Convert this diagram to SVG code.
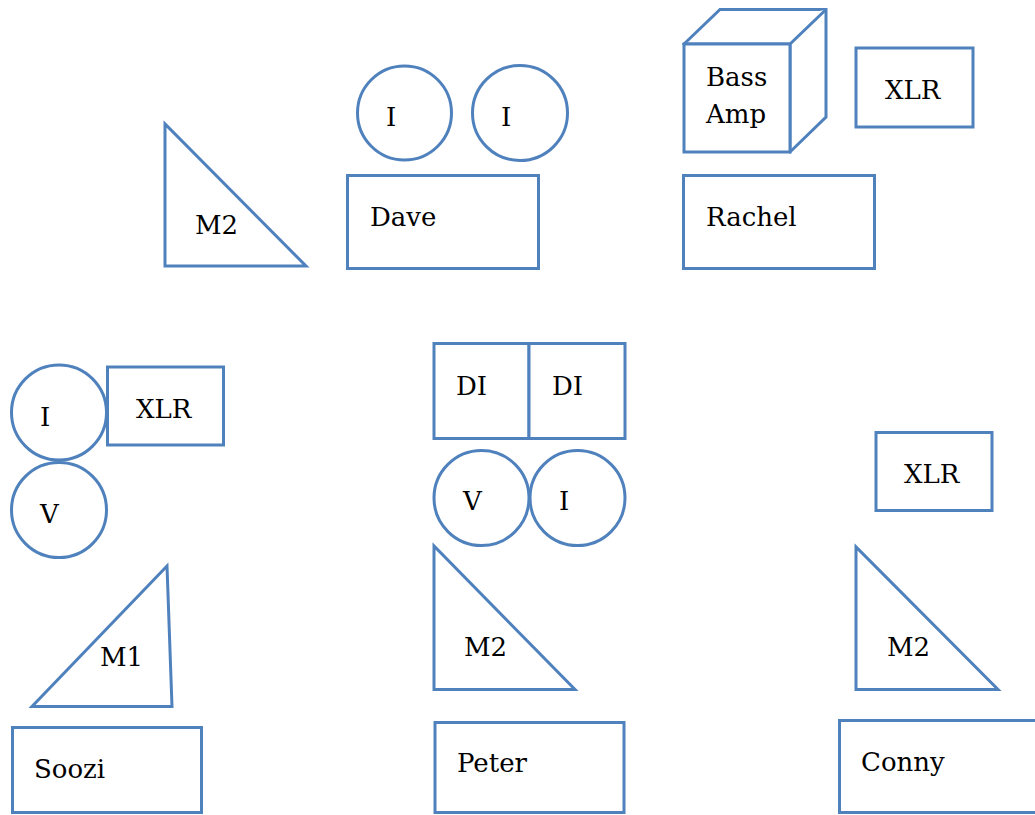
<svg xmlns="http://www.w3.org/2000/svg" width="1035" height="815" viewBox="0 0 1035 815">
<style>
.s{fill:#fff;stroke:#4F81BD;stroke-width:3;stroke-linejoin:miter}
text{font-family:"DejaVu Serif","Liberation Serif",serif;font-size:26px;fill:#000}
</style>
<rect width="1035" height="815" fill="#fff"/>
<g id="m2-dave"><polygon class="s" points="165,124 165,266 306,266"/><text x="195" y="234">M2</text></g>
<g id="dave-i1"><circle class="s" cx="404.5" cy="113" r="47"/><text x="386" y="126">I</text></g>
<g id="dave-i2"><circle class="s" cx="520" cy="113" r="47.5"/><text x="501" y="126">I</text></g>
<g id="dave"><rect class="s" x="347.5" y="175.5" width="191" height="93"/><text x="370" y="226">Dave</text></g>
<g id="bass-amp"><path class="s" d="M684,44 L720,9.5 L826,9.5 L826,117 L790,152 Z"/><path class="s" d="M684,44 L790,44 L826,9.5 M790,44 L790,152"/><rect class="s" x="684" y="44" width="106" height="108" fill="none"/><text x="706" y="86">Bass</text><text x="706" y="123">Amp</text></g>
<g id="xlr-rachel"><rect class="s" x="856" y="48" width="117" height="79"/><text x="885" y="99">XLR</text></g>
<g id="rachel"><rect class="s" x="683.5" y="175.5" width="191" height="93"/><text x="706" y="226">Rachel</text></g>
<g id="soozi-i"><circle class="s" cx="59" cy="412.5" r="47.5"/><text x="40" y="426">I</text></g>
<g id="soozi-xlr"><rect class="s" x="107.5" y="367" width="116" height="78"/><text x="136" y="418">XLR</text></g>
<g id="soozi-v"><circle class="s" cx="59" cy="510" r="47.5"/><text x="40" y="523">V</text></g>
<g id="m1"><polygon class="s" points="167,566 32,706.5 172,706.5"/><text x="100" y="666">M1</text></g>
<g id="soozi"><rect class="s" x="12.5" y="727.5" width="189" height="85"/><text x="34" y="778">Soozi</text></g>
<g id="di1"><rect class="s" x="434" y="343.5" width="95" height="95"/><text x="456" y="395">DI</text></g>
<g id="di2"><rect class="s" x="529" y="343.5" width="96" height="95"/><text x="552" y="395">DI</text></g>
<g id="peter-v"><circle class="s" cx="481.5" cy="498" r="47.5"/><text x="463" y="510">V</text></g>
<g id="peter-i"><circle class="s" cx="577.5" cy="498" r="47.5"/><text x="559" y="510">I</text></g>
<g id="m2-peter"><polygon class="s" points="434,546 434,689.5 575,689.5"/><text x="464" y="656">M2</text></g>
<g id="peter"><rect class="s" x="435" y="722.5" width="189" height="90"/><text x="457" y="772">Peter</text></g>
<g id="conny-xlr"><rect class="s" x="876" y="432.5" width="116" height="78"/><text x="904" y="483">XLR</text></g>
<g id="m2-conny"><polygon class="s" points="856,547 856,689.5 998,689.5"/><text x="887" y="656">M2</text></g>
<g id="conny"><rect class="s" x="839.5" y="720.5" width="200" height="92"/><text x="861" y="771">Conny</text></g>
<g id="connectors"/>
</svg>
